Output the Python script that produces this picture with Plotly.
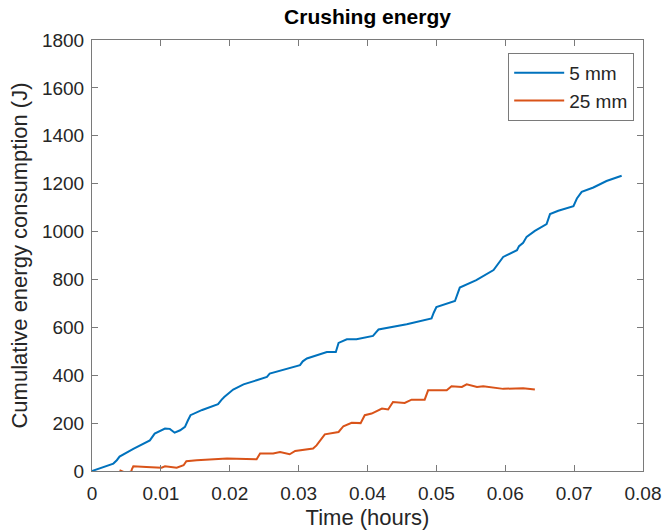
import plotly.graph_objects as go

# Data
t_5mm = [0, 0.0015, 0.0031, 0.0036, 0.0040, 0.0060, 0.0084, 0.0091, 0.0100, 0.0106,
         0.0113, 0.0120, 0.0128, 0.0135, 0.0139, 0.0143, 0.0160, 0.0183, 0.0188, 0.0192,
         0.0205, 0.0220, 0.0239, 0.0254, 0.0258, 0.0280, 0.0302, 0.0306, 0.0312, 0.0341,
         0.0354, 0.0358, 0.0370, 0.0384, 0.0408, 0.0412, 0.0416, 0.0457, 0.0493, 0.0496,
         0.0500, 0.0527, 0.0531, 0.0534, 0.0558, 0.0583, 0.0597, 0.0607, 0.0617, 0.0620,
         0.0626, 0.0631, 0.0643, 0.0660, 0.0665, 0.0677, 0.0699, 0.0704, 0.0711, 0.0728,
         0.0747, 0.0769]
e_5mm = [0, 15, 31, 45, 60, 92, 128, 156, 170, 177,
         176, 160, 170, 184, 210, 233, 255, 279, 297, 309,
         340, 362, 379, 393, 407, 425, 442, 458, 470, 497,
         497, 535, 550, 550, 564, 578, 591, 613, 637, 660,
         685, 710, 740, 766, 797, 839, 894, 908, 922, 939,
         953, 978, 1003, 1031, 1073, 1087, 1106, 1138, 1166, 1184,
         1211, 1233]

t_25mm = [0.0040, 0.0046, 0.0052, 0.0057, 0.0058, 0.0060, 0.0079, 0.0101, 0.0106, 0.0123,
          0.0133, 0.0137, 0.0152, 0.0196, 0.0239, 0.0244, 0.0263, 0.0273, 0.0287, 0.0295,
          0.0321, 0.0326, 0.0338, 0.0358, 0.0365, 0.0377, 0.0390, 0.0396, 0.0406, 0.0421,
          0.0430, 0.0437, 0.0454, 0.0464, 0.0483, 0.0488, 0.0515, 0.0522, 0.0537, 0.0544,
          0.0559, 0.0568, 0.0597, 0.0626, 0.0643]
e_25mm = [3, -4, -6, -2, 8, 20, 17, 14, 20, 14,
          24, 41, 45, 52, 49, 73, 73, 79, 70, 84,
          94, 107, 153, 163, 187, 201, 200, 233, 240, 261,
          257, 288, 284, 298, 298, 337, 337, 354, 351, 362,
          351, 354, 343, 346, 340]

series_names = ["5 mm", "25 mm"]
series_colors = ["#0072BD", "#D95319"]

FONT = "Liberation Sans, Arial, sans-serif"
TXT = "#262626"
AX = "#7a7a7a"

fig = go.Figure()
fig.add_trace(go.Scatter(x=t_5mm, y=e_5mm, mode="lines", name=series_names[0],
                         line=dict(color=series_colors[0], width=2)))
fig.add_trace(go.Scatter(x=t_25mm, y=e_25mm, mode="lines", name=series_names[1],
                         line=dict(color=series_colors[1], width=2)))

axis_common = dict(
    showline=True, linecolor=AX, linewidth=1, mirror="ticks",
    ticks="inside", ticklen=6, tickcolor=AX, tickwidth=1,
    showgrid=False, zeroline=False, automargin=False,
    tickfont=dict(family=FONT, size=19, color=TXT),
)

fig.update_layout(
    width=666, height=530,
    margin=dict(l=92, r=23, t=40, b=59),
    paper_bgcolor="white", plot_bgcolor="white",
    title=dict(text="<b>Crushing energy</b>", x=0.5518, xanchor="center",
               y=1 - 17 / 530, yanchor="middle",
               font=dict(family=FONT, size=21, color="#000000")),
    xaxis=dict(range=[0, 0.08], dtick=0.01, tick0=0, ticklabelstandoff=5,
               title=dict(text="Time (hours)", standoff=8,
                          font=dict(family=FONT, size=22, color=TXT)),
               **axis_common),
    yaxis=dict(range=[0, 1800], dtick=200, tick0=0, ticklabelstandoff=3,
               title=dict(text="Cumulative energy consumption (J)", standoff=8,
                          font=dict(family=FONT, size=22, color=TXT)),
               **axis_common),
    legend=dict(x=0.984, xanchor="right", y=0.970, yanchor="top",
                bgcolor="white", bordercolor=AX, borderwidth=1,
                font=dict(family=FONT, size=19, color=TXT),
                itemwidth=50, tracegroupgap=0),
    showlegend=True,
)

fig.write_html("out.html")
